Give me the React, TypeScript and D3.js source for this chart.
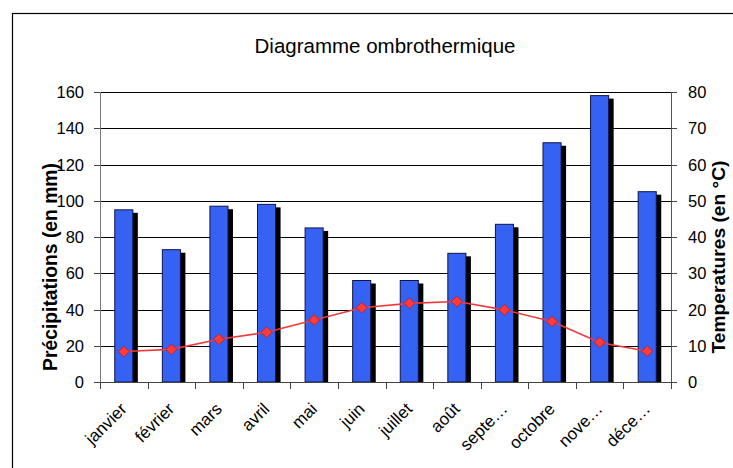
import { useEffect, useRef } from 'react'
import * as d3 from 'd3'

const MONTHS = ['janvier', 'février', 'mars', 'avril', 'mai', 'juin', 'juillet', 'août', 'septembre', 'octobre', 'novembre', 'décembre']
const MONTH_LABELS = ['janvier', 'février', 'mars', 'avril', 'mai', 'juin', 'juillet', 'août', 'septe…', 'octobre', 'nove…', 'déce…']
const PRECIPITATIONS = [95, 73, 97, 98, 85, 56, 56, 71, 87, 132, 158, 105]
const TEMPERATURES = [8.4, 9.0, 11.8, 13.7, 17.1, 20.5, 21.7, 22.2, 19.9, 16.7, 10.9, 8.5]
const PRECIP_TICKS = [0, 20, 40, 60, 80, 100, 120, 140, 160]
const TEMP_TICKS = [0, 10, 20, 30, 40, 50, 60, 70, 80]

const WIDTH = 733
const HEIGHT = 468
const PLOT = { left: 100, right: 671, top: 92, bottom: 382 }
const FONT = '"Liberation Sans", Arial, sans-serif'

export default function App() {
  const svgRef = useRef<SVGSVGElement | null>(null)

  useEffect(() => {
    if (!svgRef.current) {
      return
    }
    const svg = d3.select(svgRef.current)
    svg.selectAll('*').remove()

    const x = d3.scaleBand<string>().domain(MONTHS).range([PLOT.left, PLOT.right])
    const yPrecip = d3.scaleLinear().domain([0, 160]).range([PLOT.bottom, PLOT.top])
    const yTemp = d3.scaleLinear().domain([0, 80]).range([PLOT.bottom, PLOT.top])
    const barWidth = x.bandwidth() * 0.38
    const center = (i: number) => (x(MONTHS[i]) ?? 0) + x.bandwidth() / 2

    // frame
    svg
      .append('rect')
      .attr('x', 12.5)
      .attr('y', 13.5)
      .attr('width', WIDTH + 20)
      .attr('height', HEIGHT + 20)
      .attr('fill', '#fff')
      .attr('stroke', '#000')
      .attr('stroke-width', 1.2)

    svg
      .append('text')
      .attr('x', 385)
      .attr('y', 53)
      .attr('text-anchor', 'middle')
      .attr('font-family', FONT)
      .attr('font-size', 20.5)
      .attr('fill', '#000')
      .text('Diagramme ombrothermique')

    // gridlines
    svg
      .selectAll('line.grid')
      .data(PRECIP_TICKS.filter((t) => t > 0))
      .enter()
      .append('line')
      .attr('class', 'grid')
      .attr('x1', PLOT.left)
      .attr('x2', PLOT.right)
      .attr('y1', (d: number) => Math.round(yPrecip(d)) + 0.5)
      .attr('y2', (d: number) => Math.round(yPrecip(d)) + 0.5)
      .attr('stroke', '#000')
      .attr('stroke-width', 1)

    // left ticks + labels
    svg
      .selectAll('line.lt')
      .data(PRECIP_TICKS)
      .enter()
      .append('line')
      .attr('class', 'lt')
      .attr('x1', PLOT.left - 6)
      .attr('x2', PLOT.left)
      .attr('y1', (d: number) => Math.round(yPrecip(d)) + 0.5)
      .attr('y2', (d: number) => Math.round(yPrecip(d)) + 0.5)
      .attr('stroke', '#444')

    svg
      .selectAll('text.ll')
      .data(PRECIP_TICKS)
      .enter()
      .append('text')
      .attr('class', 'll')
      .attr('x', 84)
      .attr('y', (d: number) => yPrecip(d) + 6)
      .attr('text-anchor', 'end')
      .attr('font-family', FONT)
      .attr('font-size', 16.5)
      .attr('fill', '#000')
      .text((d: number) => String(d))

    // right ticks + labels
    svg
      .selectAll('line.rt')
      .data(TEMP_TICKS)
      .enter()
      .append('line')
      .attr('class', 'rt')
      .attr('x1', PLOT.right)
      .attr('x2', PLOT.right + 6)
      .attr('y1', (d: number) => Math.round(yTemp(d)) + 0.5)
      .attr('y2', (d: number) => Math.round(yTemp(d)) + 0.5)
      .attr('stroke', '#444')

    svg
      .selectAll('text.rl')
      .data(TEMP_TICKS)
      .enter()
      .append('text')
      .attr('class', 'rl')
      .attr('x', 688)
      .attr('y', (d: number) => yTemp(d) + 6)
      .attr('text-anchor', 'start')
      .attr('font-family', FONT)
      .attr('font-size', 16.5)
      .attr('fill', '#000')
      .text((d: number) => String(d))

    // bars: shadow then bar
    svg
      .selectAll('rect.shadow')
      .data(PRECIPITATIONS)
      .enter()
      .append('rect')
      .attr('class', 'shadow')
      .attr('x', (_: number, i: number) => center(i) - barWidth / 2 + 5)
      .attr('y', (d: number) => yPrecip(d) + 3)
      .attr('width', barWidth)
      .attr('height', (d: number) => PLOT.bottom - yPrecip(d) - 3)
      .attr('fill', '#000')

    svg
      .selectAll('rect.bar')
      .data(PRECIPITATIONS)
      .enter()
      .append('rect')
      .attr('class', 'bar')
      .attr('x', (_: number, i: number) => center(i) - barWidth / 2)
      .attr('y', (d: number) => yPrecip(d))
      .attr('width', barWidth)
      .attr('height', (d: number) => PLOT.bottom - yPrecip(d))
      .attr('fill', '#3562f2')
      .attr('stroke', '#10144a')
      .attr('stroke-width', 1)

    // axes lines
    svg
      .append('line')
      .attr('x1', PLOT.left + 0.5)
      .attr('x2', PLOT.left + 0.5)
      .attr('y1', PLOT.top)
      .attr('y2', PLOT.bottom)
      .attr('stroke', '#777')
    svg
      .append('line')
      .attr('x1', PLOT.right + 0.5)
      .attr('x2', PLOT.right + 0.5)
      .attr('y1', PLOT.top)
      .attr('y2', PLOT.bottom)
      .attr('stroke', '#555')
    svg
      .append('line')
      .attr('x1', PLOT.left)
      .attr('x2', PLOT.right)
      .attr('y1', PLOT.bottom + 0.5)
      .attr('y2', PLOT.bottom + 0.5)
      .attr('stroke', '#444')

    // category ticks
    svg
      .selectAll('line.ct')
      .data(d3.range(MONTHS.length + 1))
      .enter()
      .append('line')
      .attr('class', 'ct')
      .attr('x1', (i: number) => Math.round(PLOT.left + i * x.step()) + 0.5)
      .attr('x2', (i: number) => Math.round(PLOT.left + i * x.step()) + 0.5)
      .attr('y1', PLOT.bottom)
      .attr('y2', PLOT.bottom + 7)
      .attr('stroke', '#444')

    svg
      .selectAll('text.cl')
      .data(MONTH_LABELS)
      .enter()
      .append('text')
      .attr('class', 'cl')
      .attr('transform', (_: string, i: number) => `translate(${center(i) + 4}, ${PLOT.bottom + 28}) rotate(-45)`)
      .attr('text-anchor', 'end')
      .attr('font-family', FONT)
      .attr('font-size', 17)
      .attr('fill', '#000')
      .text((d: string) => d)

    // temperature line
    const line = d3
      .line<number>()
      .x((_: number, i: number) => center(i))
      .y((d: number) => yTemp(d))

    svg
      .append('path')
      .datum(TEMPERATURES)
      .attr('d', line)
      .attr('fill', 'none')
      .attr('stroke', '#f03a3a')
      .attr('stroke-width', 1.6)

    svg
      .selectAll('path.marker')
      .data(TEMPERATURES)
      .enter()
      .append('path')
      .attr('class', 'marker')
      .attr('d', d3.symbol().type(d3.symbolDiamond2).size(75))
      .attr('transform', (d: number, i: number) => `translate(${center(i)}, ${yTemp(d)})`)
      .attr('fill', '#ff3b3b')
      .attr('stroke', '#c01818')
      .attr('stroke-width', 0.8)

    // axis titles
    svg
      .append('text')
      .attr('transform', `translate(57, 267) rotate(-90)`)
      .attr('text-anchor', 'middle')
      .attr('font-family', FONT)
      .attr('font-size', 19.3)
      .attr('font-weight', 700)
      .attr('fill', '#000')
      .text('Précipitations (en mm)')

    svg
      .append('text')
      .attr('transform', `translate(725, 257) rotate(-90)`)
      .attr('text-anchor', 'middle')
      .attr('font-family', FONT)
      .attr('font-size', 19.2)
      .attr('font-weight', 700)
      .attr('fill', '#000')
      .text('Temperatures (en °C)')
  }, [])

  return (
    <svg
      ref={svgRef}
      width={WIDTH}
      height={HEIGHT}
      style={{ position: 'absolute', left: 0, top: 0, display: 'block' }}
      role="img"
      aria-label="Diagramme ombrothermique"
    />
  )
}
